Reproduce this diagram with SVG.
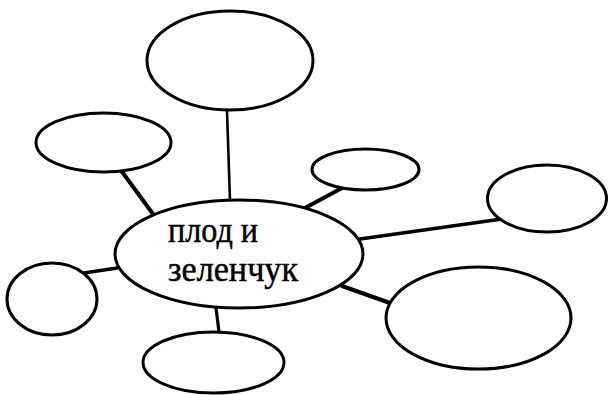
<svg xmlns="http://www.w3.org/2000/svg" width="608" height="395" viewBox="0 0 608 395">
<style>
.n ellipse{fill:#fff;stroke:#000;stroke-width:3}
.c line{stroke:#000;stroke-linecap:round}
.t{font-family:"Liberation Serif","Times New Roman",serif;font-size:35px;fill:#000;stroke:#000;stroke-width:0.5}
</style>
<rect width="608" height="395" fill="#fff"/>
<g id="connectors" class="c">
<line x1="227" y1="111" x2="230" y2="201" stroke-width="2.6"/>
<line x1="120" y1="169" x2="153" y2="214" stroke-width="4"/>
<line x1="342" y1="188" x2="305" y2="208" stroke-width="4"/>
<line x1="502" y1="219" x2="360" y2="239" stroke-width="3.5"/>
<line x1="84" y1="273" x2="117" y2="268" stroke-width="3.5"/>
<line x1="216" y1="308" x2="219" y2="332" stroke-width="3.2"/>
<line x1="342" y1="286" x2="390" y2="303" stroke-width="4"/>
</g>
<g id="node-top" class="n"><ellipse cx="230" cy="60.5" rx="83" ry="49.5"/></g>
<g id="node-upper-left" class="n"><ellipse cx="103.5" cy="142.5" rx="67.5" ry="29.5"/></g>
<g id="node-upper-right-small" class="n"><ellipse cx="365.5" cy="169.5" rx="53.5" ry="20.5"/></g>
<g id="node-right" class="n"><ellipse cx="547" cy="198.5" rx="59.5" ry="33.5"/></g>
<g id="node-left" class="n"><ellipse cx="52" cy="299" rx="45" ry="36"/></g>
<g id="node-bottom" class="n"><ellipse cx="213.5" cy="362.5" rx="70.5" ry="30.5"/></g>
<g id="node-bottom-right" class="n"><ellipse cx="478.5" cy="318" rx="92.5" ry="51"/></g>
<g id="node-center" class="n">
<ellipse cx="239" cy="254" rx="124" ry="54"/>
<text class="t" x="168" y="242" textLength="90" lengthAdjust="spacingAndGlyphs">плод и</text>
<text class="t" x="168" y="281" textLength="130" lengthAdjust="spacingAndGlyphs">зеленчук</text>
</g>
</svg>
